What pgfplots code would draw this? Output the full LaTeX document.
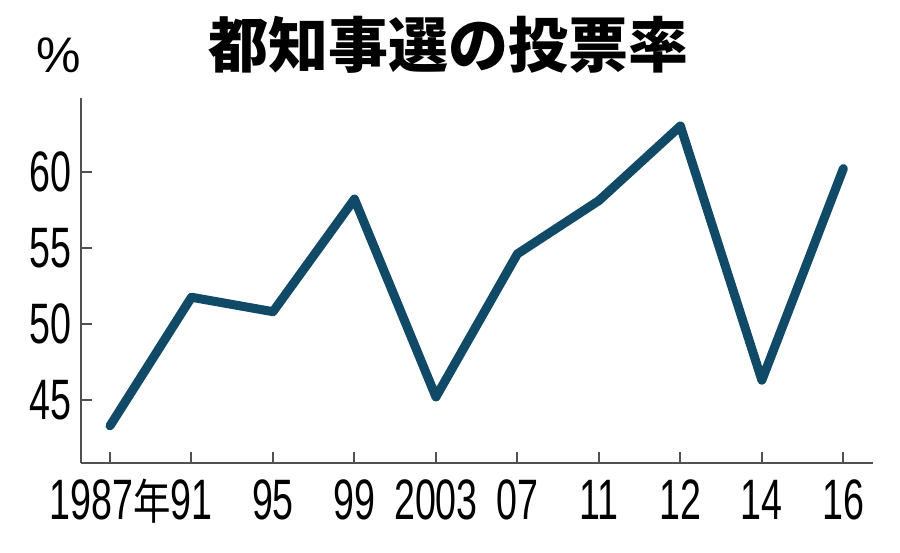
\documentclass[border=0pt]{standalone}
\usepackage{pgfplots}
\pgfplotsset{compat=1.18}
\usepackage{fontspec}
\setmainfont{Liberation Sans}
\newfontfamily\numfont{Liberation Sans}[FakeStretch=0.66]
\newfontfamily\cjk{Noto Sans CJK JP}
\newfontfamily\cjknarrow{Noto Sans CJK JP}[FakeStretch=0.78]
\definecolor{linecol}{RGB}{16,74,102}
\definecolor{axcol}{RGB}{80,80,80}
\begin{document}
\begin{tikzpicture}
\path[use as bounding box, fill=white] (0,0) rectangle (900pt,552pt);
\begin{axis}[
  at={(81pt,88.7pt)}, anchor=south west,
  scale only axis,
  width=791.7pt, height=365pt,
  xmin=-0.356, xmax=9.36,
  ymin=40.84, ymax=64.82,
  axis x line=bottom, axis y line=left,
  axis line style={-, axcol, line width=2pt},
  tick style={axcol, line width=2pt},
  tick align=inside,
  major tick length=11pt,
  xtick={0,1,2,3,4,5,6,7,8,9},
  xticklabels={1987{\cjknarrow\fontsize{48}{50}\selectfont 年},91,95,99,2003,07,11,12,14,16},
  ytick={45,50,55,60},
  yticklabels={45,50,55,60},
  xticklabel style={font=\numfont\fontsize{57}{60}\selectfont, inner sep=0pt, anchor=north, text height=41pt, text depth=0pt, yshift=-15pt},
  yticklabel style={font=\numfont\fontsize{57}{60}\selectfont, inner sep=0pt, anchor=east, xshift=-9pt},
  clip=false,
]
\addplot[linecol, line width=9pt, line cap=round, line join=round] coordinates {
  (0,43.3) (1,51.75) (2,50.8) (3,58.2) (4,45.2) (5,54.6) (6,58.1) (7,63.0) (8,46.3) (9,60.2)
};
\end{axis}
\node[inner sep=0pt] at (448pt,507pt) {\cjk\bfseries\fontsize{60}{62}\selectfont 都知事選の投票率};
\node[inner sep=0pt] at (59pt,497pt) {\fontsize{50}{52}\selectfont\%};
\end{tikzpicture}
\end{document}
